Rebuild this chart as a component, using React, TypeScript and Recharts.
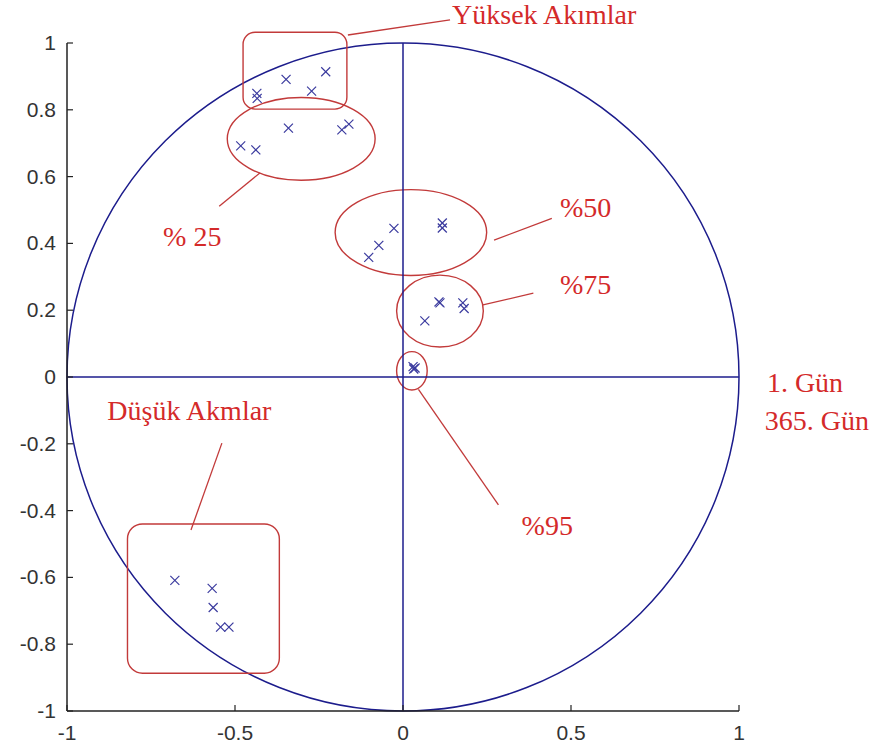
import React from "react";
import {
  ScatterChart,
  Scatter,
  XAxis,
  YAxis,
  ReferenceLine,
  ReferenceArea,
  ReferenceDot,
} from "recharts";

// Loadings grouped by flow percentile
const highFlows = [
  { x: -0.23, y: 0.914 },
  { x: -0.348, y: 0.891 },
  { x: -0.272, y: 0.856 },
  { x: -0.435, y: 0.849 },
  { x: -0.434, y: 0.834 },
];
const q25 = [
  { x: -0.341, y: 0.745 },
  { x: -0.161, y: 0.757 },
  { x: -0.182, y: 0.74 },
  { x: -0.483, y: 0.692 },
  { x: -0.438, y: 0.68 },
];
const q50 = [
  { x: -0.027, y: 0.445 },
  { x: -0.072, y: 0.394 },
  { x: -0.102, y: 0.358 },
  { x: 0.117, y: 0.461 },
  { x: 0.117, y: 0.446 },
];
const q75 = [
  { x: 0.107, y: 0.225 },
  { x: 0.11, y: 0.222 },
  { x: 0.178, y: 0.222 },
  { x: 0.182, y: 0.205 },
  { x: 0.065, y: 0.168 },
];
const q95 = [
  { x: 0.03, y: 0.031 },
  { x: 0.036, y: 0.027 },
  { x: 0.032, y: 0.024 },
];
const lowFlows = [
  { x: -0.679, y: -0.609 },
  { x: -0.568, y: -0.633 },
  { x: -0.565, y: -0.69 },
  { x: -0.543, y: -0.749 },
  { x: -0.518, y: -0.749 },
];

const xTicks = [-1, -0.5, 0, 0.5, 1];
const yTicks = [-1, -0.8, -0.6, -0.4, -0.2, 0, 0.2, 0.4, 0.6, 0.8, 1];

// group outlines: [x1, x2, y1, y2]
const ellipses = [
  [-0.523, -0.083, 0.589, 0.837],
  [-0.202, 0.249, 0.304, 0.561],
  [-0.019, 0.239, 0.09, 0.305],
  [-0.019, 0.072, -0.039, 0.076],
];
const boxes = [
  [-0.476, -0.167, 0.802, 1.032, 12],
  [-0.82, -0.368, -0.887, -0.44, 15],
];
// leader lines: [x1, y1, x2, y2]
const leaders = [
  [-0.164, 1.024, 0.14, 1.069],
  [-0.426, 0.611, -0.547, 0.511],
  [0.271, 0.41, 0.443, 0.475],
  [0.238, 0.216, 0.388, 0.251],
  [0.046, -0.037, 0.284, -0.383],
  [-0.631, -0.458, -0.539, -0.198],
];
const labels = [
  { text: "Yüksek Akımlar", x: 0.146, y: 1.057 },
  { text: "% 25", x: -0.714, y: 0.392 },
  { text: "%50", x: 0.467, y: 0.479 },
  { text: "%75", x: 0.467, y: 0.248 },
  { text: "%95", x: 0.353, y: -0.473 },
  { text: "1. Gün", x: 1.083, y: -0.045 },
  { text: "365. Gün", x: 1.077, y: -0.159 },
  { text: "Düşük Akmlar", x: -0.88, y: -0.13 },
];

const NAVY = "#1c1c8c";
const RED = "#c23a3a";
const TEXT_RED = "#d42a2a";
const TICK_MARGIN = 11;

const Cross = (props: any) => {
  const { cx, cy } = props;
  const s = 4.5;
  return (
    <g stroke="#3a3a9e" strokeWidth={1.2}>
      <line x1={cx - s} y1={cy - s} x2={cx + s} y2={cy + s} />
      <line x1={cx - s} y1={cy + s} x2={cx + s} y2={cy - s} />
    </g>
  );
};

const YTick = (props: any) => {
  const { x, y, payload } = props;
  const axisX = x + TICK_MARGIN;
  return (
    <g>
      <line x1={axisX} y1={y} x2={axisX + 6} y2={y} stroke="#222" strokeWidth={1.2} />
      <text
        x={x}
        y={y}
        dy={7}
        textAnchor="end"
        fontFamily="Liberation Sans, Arial, sans-serif"
        fontSize={21}
        fill="#333"
      >
        {payload.value}
      </text>
    </g>
  );
};

const XTick = (props: any) => {
  const { x, y, payload } = props;
  const axisY = y - TICK_MARGIN;
  return (
    <g>
      <line x1={x} y1={axisY} x2={x} y2={axisY - 6} stroke="#222" strokeWidth={1.2} />
      <text
        x={x}
        y={y}
        dy={18}
        textAnchor="middle"
        fontFamily="Liberation Sans, Arial, sans-serif"
        fontSize={21}
        fill="#333"
      >
        {payload.value}
      </text>
    </g>
  );
};

const ellipseShape = (stroke: string, width: number) => (p: any) => (
  <ellipse
    cx={p.x + p.width / 2}
    cy={p.y + p.height / 2}
    rx={Math.abs(p.width) / 2}
    ry={Math.abs(p.height) / 2}
    fill="none"
    stroke={stroke}
    strokeWidth={width}
  />
);

const roundRect = (r: number) => (p: any) => (
  <rect
    x={p.x}
    y={p.y}
    width={p.width}
    height={p.height}
    rx={r}
    ry={r}
    fill="none"
    stroke={RED}
    strokeWidth={1.4}
  />
);

const labelShape = (text: string) => (p: any) => (
  <text
    x={p.cx}
    y={p.cy}
    fontFamily="Liberation Serif, Times New Roman, serif"
    fontSize={28}
    fill={TEXT_RED}
  >
    {text}
  </text>
);

const groups = [highFlows, q25, q50, q75, q95, lowFlows];

export default function App() {
  return (
    <div style={{ position: "absolute", left: 0, top: 0, background: "#fff" }}>
      <ScatterChart
        width={887}
        height={753}
        margin={{ top: 43, right: 148, bottom: 0, left: 0 }}
      >
        <XAxis
          type="number"
          dataKey="x"
          domain={[-1, 1]}
          ticks={xTicks}
          allowDataOverflow
          height={42}
          tickSize={0}
          tickMargin={TICK_MARGIN}
          tickLine={false}
          axisLine={{ stroke: "#222", strokeWidth: 1.5 }}
          tick={<XTick />}
          interval={0}
        />
        <YAxis
          type="number"
          dataKey="y"
          domain={[-1, 1]}
          ticks={yTicks}
          allowDataOverflow
          width={67}
          tickSize={0}
          tickMargin={TICK_MARGIN}
          tickLine={false}
          axisLine={{ stroke: "#222", strokeWidth: 1.5 }}
          tick={<YTick />}
          interval={0}
        />
        {/* unit correlation circle */}
        <ReferenceArea
          x1={-1}
          x2={1}
          y1={-1}
          y2={1}
          ifOverflow="visible"
          shape={ellipseShape(NAVY, 1.5)}
        />
        <ReferenceLine y={0} stroke={NAVY} strokeWidth={1.5} />
        <ReferenceLine x={0} stroke={NAVY} strokeWidth={1.5} />
        {ellipses.map((e, i) => (
          <ReferenceArea
            key={`e${i}`}
            x1={e[0]}
            x2={e[1]}
            y1={e[2]}
            y2={e[3]}
            ifOverflow="visible"
            shape={ellipseShape(RED, 1.4)}
          />
        ))}
        {boxes.map((b, i) => (
          <ReferenceArea
            key={`b${i}`}
            x1={b[0]}
            x2={b[1]}
            y1={b[2]}
            y2={b[3]}
            ifOverflow="visible"
            shape={roundRect(b[4])}
          />
        ))}
        {leaders.map((l, i) => (
          <ReferenceLine
            key={`l${i}`}
            segment={[
              { x: l[0], y: l[1] },
              { x: l[2], y: l[3] },
            ]}
            stroke={RED}
            strokeWidth={1.3}
            ifOverflow="visible"
          />
        ))}
        {groups.map((g, i) => (
          <Scatter
            key={`s${i}`}
            data={g}
            shape={<Cross />}
            isAnimationActive={false}
          />
        ))}
        {labels.map((t, i) => (
          <ReferenceDot
            key={`t${i}`}
            x={t.x}
            y={t.y}
            r={0}
            ifOverflow="visible"
            shape={labelShape(t.text)}
          />
        ))}
      </ScatterChart>
    </div>
  );
}
